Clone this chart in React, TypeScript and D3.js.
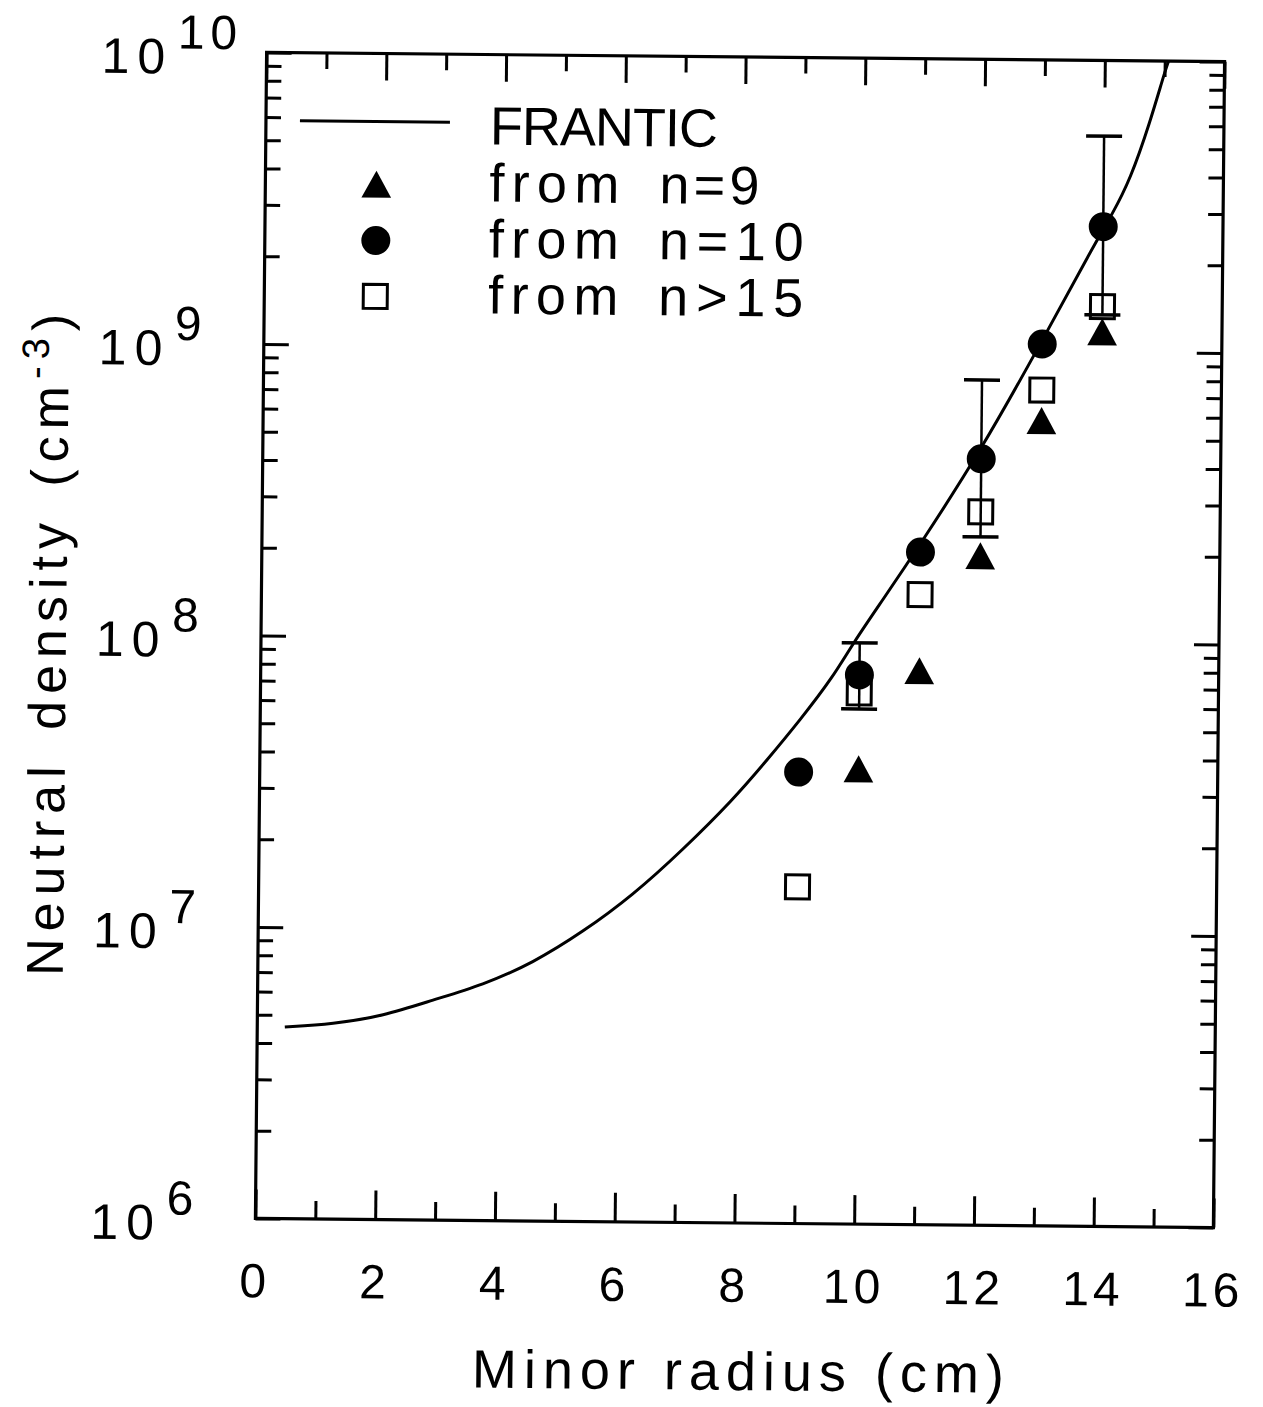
import React, { useEffect, useRef } from "react";
import * as d3 from "d3";

// Data
const radius = [9, 10, 11, 12, 13, 14];
// from n=10 (filled circles)
const circleVals = [3.54e7, 7.66e7, 2.03e8, 4.26e8, 1.06e9, 2.69e9];
// from n=9 (filled triangles), no point at 9 cm
const triangleX = [10, 11, 12, 13, 14];
const triangleVals = [3.61e7, 7.87e7, 1.96e8, 5.73e8, 1.16e9];
// from n>15 (open squares)
const squareVals = [1.43e7, 6.64e7, 1.45e8, 2.8e8, 7.37e8, 1.43e9];
// error bars
const errX = [10, 12, 14];
const errLo = [5.85e7, 2.3e8, 1.34e9];
const errHi = [9.86e7, 7.94e8, 5.5e9];
// FRANTIC curve
const curveX = [
  0.46, 1.26, 2.1, 2.93, 3.76, 4.59, 5.42, 6.25, 7.08, 7.91, 8.47, 9.02, 9.56,
  9.89, 10.38, 10.99, 11.98, 12.96, 13.83, 14.16, 14.44, 14.76, 15.01, 15.08,
];
const curveVals = [
  4.54e6, 4.67e6, 4.99e6, 5.69e6, 6.43e6, 7.67e6, 9.84e6, 1.32e7, 1.9e7, 2.83e7,
  3.88e7, 5.35e7, 7.52e7, 9.85e7, 1.39e8, 2.15e8, 4.5e8, 1.05e9, 2.29e9, 3.0e9,
  3.9e9, 6.1e9, 9.3e9, 1.02e10,
];
// axis ticks
const xTickLabels = [0, 2, 4, 6, 8, 10, 12, 14, 16];
const xMinorTicks = [1, 3, 5, 7, 9, 11, 13, 15];
const yExponents = [6, 7, 8, 9, 10];

const W = 1263;
const H = 1407;
const M = { left: 261, top: 57, right: 1219, bottom: 1223 };
const TILT = 0.55; // the scanned page is slightly rotated
const FONT = "'Liberation Sans', Arial, sans-serif";

export default function App() {
  const ref = useRef<SVGSVGElement>(null);

  useEffect(() => {
    const root = d3.select(ref.current);
    root.selectAll("*").remove();
    const svg = root.append("g").attr("transform", `rotate(${TILT},740,640)`);

    const x = d3.scaleLinear().domain([0, 16]).range([M.left, M.right]);
    const y = d3.scaleLog().domain([1e6, 1e10]).range([M.bottom, M.top]);

    const majorY = yExponents.map((e) => Math.pow(10, e));
    const minorY: number[] = [];
    yExponents.slice(0, -1).forEach((e) => {
      for (let k = 2; k <= 9; k++) minorY.push(k * Math.pow(10, e));
    });

    // frame
    svg
      .append("rect")
      .attr("x", M.left)
      .attr("y", M.top)
      .attr("width", M.right - M.left)
      .attr("height", M.bottom - M.top)
      .attr("fill", "none")
      .attr("stroke", "#000")
      .attr("stroke-width", 3.2);

    // inward ticks on all four sides
    const addAxis = (axis: any, transform: string) => {
      const g = svg.append("g").attr("transform", transform).call(axis);
      g.select(".domain").remove();
      g.selectAll("text").remove();
      g.selectAll("line").attr("stroke", "#000").attr("stroke-width", 3);
    };
    const fmt = () => "";
    addAxis(d3.axisBottom(x).tickValues(xTickLabels).tickSize(-29).tickFormat(fmt), `translate(0,${M.bottom})`);
    addAxis(d3.axisBottom(x).tickValues(xMinorTicks).tickSize(-18).tickFormat(fmt), `translate(0,${M.bottom})`);
    addAxis(d3.axisTop(x).tickValues(xTickLabels).tickSize(-27).tickFormat(fmt), `translate(0,${M.top})`);
    addAxis(d3.axisTop(x).tickValues(xMinorTicks).tickSize(-16).tickFormat(fmt), `translate(0,${M.top})`);
    addAxis(d3.axisLeft(y).tickValues(majorY).tickSize(-25).tickFormat(fmt), `translate(${M.left},0)`);
    addAxis(d3.axisLeft(y).tickValues(minorY).tickSize(-15).tickFormat(fmt), `translate(${M.left},0)`);
    addAxis(d3.axisRight(y).tickValues(majorY).tickSize(-25).tickFormat(fmt), `translate(${M.right},0)`);
    addAxis(d3.axisRight(y).tickValues(minorY).tickSize(-15).tickFormat(fmt), `translate(${M.right},0)`);

    // x tick labels
    svg
      .append("g")
      .selectAll("text")
      .data(xTickLabels)
      .enter()
      .append("text")
      .attr("x", (d) => x(d))
      .attr("y", 1302)
      .attr("text-anchor", "middle")
      .attr("font-family", FONT)
      .attr("font-size", 48)
      .attr("letter-spacing", 4)
      .text((d) => d);

    // y tick labels 10^n
    const yl = svg.append("g").selectAll("g").data(yExponents).enter().append("g");
    yl.append("text")
      .attr("x", 96)
      .attr("y", (d) => y(Math.pow(10, d)) + 22)
      .attr("font-family", FONT)
      .attr("font-size", 50)
      .attr("letter-spacing", 8)
      .text("10");
    yl.append("text")
      .attr("x", 172)
      .attr("y", (d) => y(Math.pow(10, d)) - 3)
      .attr("font-family", FONT)
      .attr("font-size", 48)
      .attr("letter-spacing", 6)
      .text((d) => d);

    // axis titles
    svg
      .append("text")
      .attr("x", 745)
      .attr("y", 1390)
      .attr("text-anchor", "middle")
      .attr("font-family", FONT)
      .attr("font-size", 54)
      .attr("textLength", 532)
      .attr("lengthAdjust", "spacing")
      .text("Minor radius (cm)");

    const yt = svg
      .append("text")
      .attr("transform", `translate(66,648) rotate(-90)`)
      .attr("text-anchor", "middle")
      .attr("font-family", FONT)
      .attr("font-size", 52)
      .attr("letter-spacing", 7)
      .attr("word-spacing", 8);
    yt.append("tspan").text("Neutral density (cm");
    yt.append("tspan").attr("dy", -20).attr("font-size", 38).text("-3");
    yt.append("tspan").attr("dy", 20).text(")");

    // clip
    svg
      .append("clipPath")
      .attr("id", "plotclip")
      .append("rect")
      .attr("x", M.left)
      .attr("y", M.top)
      .attr("width", M.right - M.left)
      .attr("height", M.bottom - M.top);

    // FRANTIC curve (B-spline smooths the hand-read points)
    const line = d3
      .line<number>()
      .x((d, i) => x(curveX[i]))
      .y((d) => y(d))
      .curve(d3.curveBasis);
    svg
      .append("path")
      .attr("clip-path", "url(#plotclip)")
      .attr("d", line(curveVals))
      .attr("fill", "none")
      .attr("stroke", "#000")
      .attr("stroke-width", 3);

    // error bars
    const eb = svg.append("g").attr("stroke", "#000").attr("stroke-width", 2.5);
    errX.forEach((xv, i) => {
      eb.append("line").attr("x1", x(xv)).attr("x2", x(xv)).attr("y1", y(errLo[i])).attr("y2", y(errHi[i]));
      [errLo[i], errHi[i]].forEach((v) => {
        eb.append("line")
          .attr("x1", x(xv) - 18)
          .attr("x2", x(xv) + 18)
          .attr("y1", y(v))
          .attr("y2", y(v))
          .attr("stroke-width", 3.5);
      });
    });

    const triPath = (cx: number, cy: number, s: number) =>
      `M${cx},${cy - s * 0.55}L${cx + s * 0.55},${cy + s * 0.45}L${cx - s * 0.55},${cy + s * 0.45}Z`;

    // squares
    svg
      .append("g")
      .selectAll("rect")
      .data(squareVals)
      .enter()
      .append("rect")
      .attr("x", (d, i) => x(radius[i]) - 12)
      .attr("y", (d) => y(d) - 12)
      .attr("width", 24)
      .attr("height", 24)
      .attr("fill", "none")
      .attr("stroke", "#000")
      .attr("stroke-width", 3);

    // triangles
    svg
      .append("g")
      .selectAll("path")
      .data(triangleVals)
      .enter()
      .append("path")
      .attr("d", (d, i) => triPath(x(triangleX[i]), y(d), 27))
      .attr("fill", "#000");

    // circles
    svg
      .append("g")
      .selectAll("circle")
      .data(circleVals)
      .enter()
      .append("circle")
      .attr("cx", (d, i) => x(radius[i]))
      .attr("cy", (d) => y(d))
      .attr("r", 14.5)
      .attr("fill", "#000");

    // legend
    const lg = svg.append("g");
    lg.append("line")
      .attr("x1", 295)
      .attr("x2", 445)
      .attr("y1", 125)
      .attr("y2", 125)
      .attr("stroke", "#000")
      .attr("stroke-width", 3);
    lg.append("path").attr("d", triPath(372, 189, 27)).attr("fill", "#000");
    lg.append("circle").attr("cx", 372).attr("cy", 244).attr("r", 14.5).attr("fill", "#000");
    lg.append("rect")
      .attr("x", 360)
      .attr("y", 288)
      .attr("width", 24)
      .attr("height", 24)
      .attr("fill", "none")
      .attr("stroke", "#000")
      .attr("stroke-width", 3);

    const legendRows = [
      { a: "FRANTIC", aw: 228, b: "", bw: 0, y: 147 },
      { a: "from", aw: 130, b: "n=9", bw: 100, y: 204 },
      { a: "from", aw: 130, b: "n=10", bw: 145, y: 260 },
      { a: "from", aw: 130, b: "n>15", bw: 145, y: 316 },
    ];
    legendRows.forEach((r) => {
      lg.append("text")
        .attr("x", 485)
        .attr("y", r.y)
        .attr("font-family", FONT)
        .attr("font-size", 54)
        .attr("textLength", r.aw)
        .attr("lengthAdjust", "spacing")
        .text(r.a);
      if (r.b) {
        lg.append("text")
          .attr("x", 655)
          .attr("y", r.y)
          .attr("font-family", FONT)
          .attr("font-size", 54)
          .attr("textLength", r.bw)
          .attr("lengthAdjust", "spacing")
          .text(r.b);
      }
    });
  }, []);

  return (
    <svg
      ref={ref}
      width={W}
      height={H}
      style={{ position: "absolute", left: 0, top: 0, background: "#fff" }}
    />
  );
}
